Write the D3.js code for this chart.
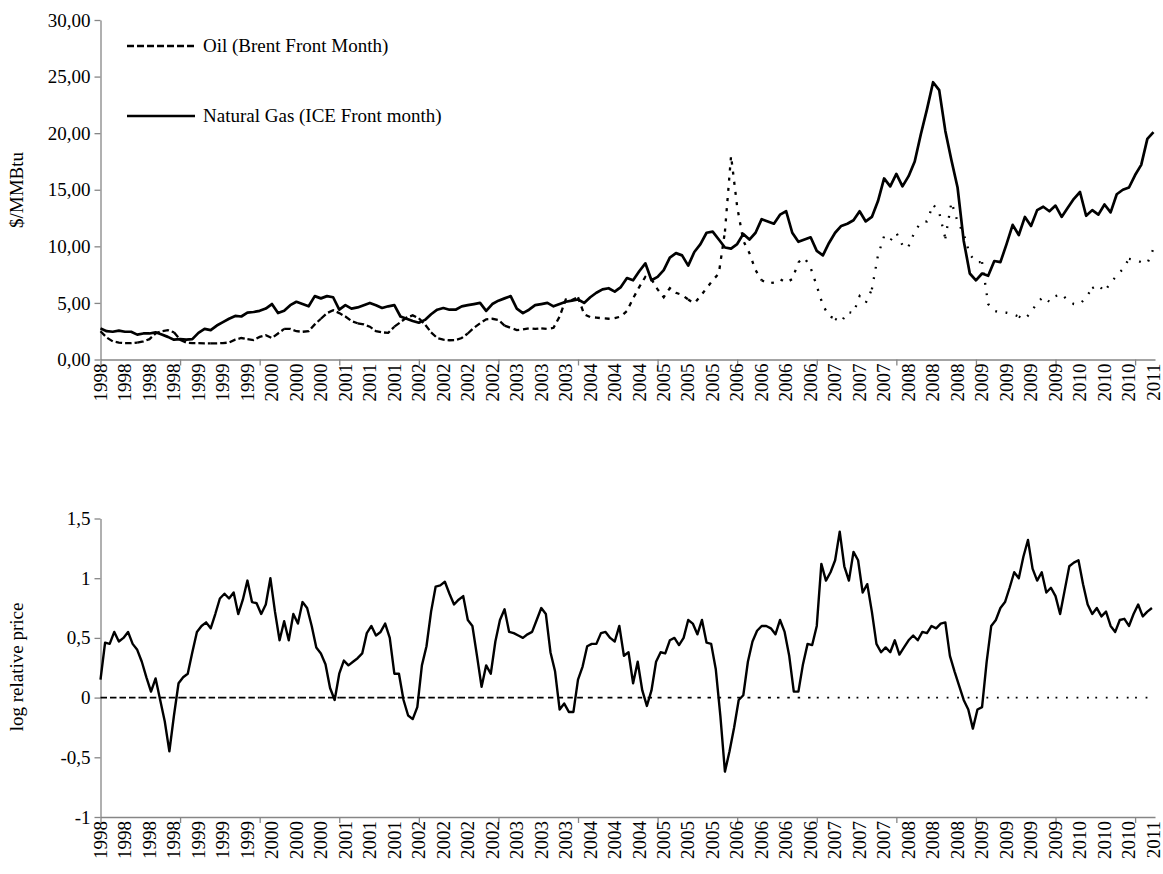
<!DOCTYPE html>
<html><head><meta charset="utf-8">
<script src="https://cdn.jsdelivr.net/npm/d3@7"></script>
<style>
body{margin:0;background:#fff}
text{font-family:"Liberation Serif","Times New Roman",serif;fill:#000}
</style>
</head><body>
<svg id="c" width="1163" height="874"></svg>
<script>
// ---------- data ----------
const nWeeks = 690;            // weekly categories
const labelEvery = 16;         // a category label every 16 weeks
const tickEvery = 52;          // a tick mark every 52 weeks
const xLabels = ["1998","1998","1998","1998","1999","1999","1999","2000","2000","2000",
 "2001","2001","2001","2002","2002","2002","2002","2003","2003","2003",
 "2004","2004","2004","2005","2005","2005","2006","2006","2006","2006",
 "2007","2007","2007","2008","2008","2008","2009","2009","2009","2009",
 "2010","2010","2010","2011"];

const priceStep = 4; // weeks between readings of the price series
const gasSeries = [2.75,2.5,2.45,2.55,2.45,2.45,2.2,2.3,2.3,2.4,
 2.2,2.0,1.75,1.8,1.75,1.8,2.35,2.7,2.6,3.0,
 3.3,3.6,3.85,3.8,4.15,4.2,4.3,4.5,4.9,4.1,
 4.3,4.8,5.1,4.9,4.7,5.6,5.4,5.6,5.5,4.4,
 4.8,4.5,4.6,4.8,5.0,4.8,4.55,4.7,4.8,3.8,
 3.6,3.4,3.25,3.5,4.0,4.4,4.55,4.4,4.4,4.7,
 4.8,4.9,5.0,4.3,4.9,5.2,5.4,5.6,4.5,4.1,
 4.4,4.8,4.9,5.0,4.7,4.9,5.1,5.2,5.3,5.0,
 5.5,5.9,6.2,6.3,6.0,6.4,7.2,7.0,7.8,8.5,
 7.0,7.3,7.9,9.0,9.4,9.2,8.3,9.5,10.2,11.2,
 11.3,10.6,9.9,9.8,10.2,11.1,10.6,11.2,12.4,12.2,
 12.0,12.8,13.1,11.2,10.4,10.6,10.8,9.6,9.2,10.3,
 11.2,11.8,12.0,12.3,13.1,12.2,12.6,14.0,16.0,15.3,
 16.4,15.3,16.2,17.5,19.9,22.1,24.5,23.8,20.2,17.6,
 15.2,10.5,7.6,7.0,7.6,7.4,8.7,8.6,10.2,11.9,
 11.0,12.6,11.8,13.2,13.5,13.1,13.6,12.6,13.4,14.2,
 14.8,12.7,13.2,12.8,13.7,13.0,14.6,15.0,15.2,16.3,
 17.2,19.5,20.1];
const oilSeries = [2.5,1.95,1.6,1.5,1.45,1.45,1.5,1.6,1.8,2.3,
 2.5,2.6,2.4,1.75,1.5,1.45,1.45,1.42,1.42,1.43,
 1.45,1.5,1.75,1.9,1.8,1.72,2.0,2.15,1.9,2.3,
 2.7,2.7,2.5,2.45,2.5,3.1,3.6,4.1,4.35,4.1,
 3.8,3.4,3.2,3.1,2.9,2.5,2.4,2.35,2.9,3.3,
 3.7,3.9,3.65,3.1,2.4,1.9,1.75,1.7,1.72,1.9,
 2.3,2.8,3.2,3.55,3.6,3.5,3.0,2.8,2.6,2.65,
 2.75,2.7,2.75,2.7,2.8,3.8,5.3,5.25,5.5,4.0,
 3.75,3.7,3.64,3.6,3.65,3.8,4.3,5.4,6.4,7.3,
 7.1,6.2,5.5,6.3,5.9,5.7,5.3,4.95,5.6,6.3,
 7.0,7.6,11.3,18.0,13.5,10.5,9.4,7.9,7.0,6.73,
 6.8,7.1,6.8,7.1,8.6,9.0,8.1,6.5,4.8,3.85,
 3.6,3.3,4.2,4.1,5.6,5.0,6.2,9.2,10.9,10.5,
 11.2,10.1,10.0,11.3,12.1,12.2,13.7,13.0,10.7,13.9,
 12.2,11.1,9.3,8.6,8.6,4.9,4.3,4.13,4.13,4.0,
 3.8,3.55,4.2,5.0,5.55,5.1,5.6,5.8,5.2,4.9,
 4.9,5.5,6.3,6.6,6.0,6.8,7.4,8.0,8.9,8.8,
 8.6,8.5,9.8];

const ratioStep = 3; // weeks between readings of the log relative price
const logRelative = [0.15,0.46,0.45,0.55,0.47,0.5,0.55,0.45,0.4,0.3,
 0.17,0.05,0.16,-0.02,-0.2,-0.45,-0.15,0.12,0.17,0.2,
 0.38,0.55,0.6,0.63,0.58,0.7,0.83,0.87,0.83,0.88,
 0.7,0.82,0.98,0.8,0.79,0.7,0.78,1.0,0.72,0.48,
 0.64,0.48,0.7,0.62,0.8,0.75,0.6,0.42,0.37,0.28,
 0.08,-0.02,0.2,0.31,0.27,0.3,0.33,0.37,0.54,0.6,
 0.52,0.55,0.62,0.5,0.2,0.2,-0.02,-0.15,-0.18,-0.08,
 0.27,0.43,0.72,0.93,0.94,0.97,0.87,0.78,0.82,0.85,
 0.65,0.6,0.35,0.09,0.27,0.2,0.47,0.65,0.74,0.55,
 0.54,0.52,0.5,0.53,0.55,0.65,0.75,0.7,0.38,0.22,
 -0.1,-0.05,-0.12,-0.12,0.15,0.26,0.43,0.45,0.45,0.54,
 0.55,0.5,0.47,0.6,0.35,0.38,0.12,0.3,0.06,-0.07,
 0.06,0.3,0.38,0.37,0.48,0.5,0.44,0.5,0.65,0.62,
 0.53,0.65,0.46,0.45,0.24,-0.15,-0.62,-0.45,-0.25,-0.02,
 0.02,0.3,0.47,0.56,0.6,0.6,0.58,0.53,0.65,0.55,
 0.35,0.05,0.05,0.28,0.45,0.44,0.6,1.12,0.98,1.05,
 1.15,1.39,1.1,0.98,1.22,1.15,0.88,0.95,0.72,0.45,
 0.38,0.42,0.38,0.48,0.36,0.42,0.48,0.52,0.48,0.55,
 0.54,0.6,0.58,0.62,0.63,0.35,0.22,0.1,-0.02,-0.1,
 -0.26,-0.1,-0.08,0.3,0.6,0.65,0.75,0.8,0.92,1.05,
 1.0,1.18,1.32,1.08,0.98,1.05,0.88,0.92,0.85,0.7,
 0.9,1.1,1.13,1.15,0.95,0.78,0.7,0.75,0.68,0.72,
 0.6,0.55,0.65,0.66,0.6,0.7,0.78,0.68,0.72,0.75];

const priceTicks = [0,5,10,15,20,25,30];
const ratioTicks = [-1,-0.5,0,0.5,1,1.5];
const legendNames = ["Oil (Brent Front Month)","Natural Gas (ICE Front month)"];

// ---------- layout ----------
const svg = d3.select("#c");
const AX = "#868686";
const FS = "19px";
const x = d3.scaleLinear().domain([0, nWeeks - 1]).range([100.5, 1155]);
const yTop = d3.scaleLinear().domain([0, 30]).range([359.5, 20]);
const yBot = d3.scaleLinear().domain([-1, 1.5]).range([817, 518.5]);

const commaFmt = d => d.toFixed(2).replace(".", ",");
const botFmt = d => String(d).replace(".", ",");

function yAxis(scale, ticks, fmt) {
  const g = svg.append("g").attr("transform", `translate(${x.range()[0]},0)`)
    .call(d3.axisLeft(scale).tickValues(ticks).tickFormat(fmt).tickSize(6).tickSizeOuter(0).tickPadding(4));
  g.select(".domain").attr("stroke", AX).attr("stroke-width", 1.3);
  g.selectAll(".tick line").attr("stroke", AX).attr("stroke-width", 1.3);
  g.selectAll(".tick text").style("font-size", FS).style("font-family", "Liberation Serif").attr("fill", "#000");
  return g;
}
function xAxis(yPos) {
  const g = svg.append("g").attr("transform", `translate(0,${yPos})`)
    .call(d3.axisBottom(x).tickValues(d3.range(0, nWeeks, tickEvery)).tickFormat("").tickSize(6).tickSizeOuter(0));
  g.select(".domain").attr("stroke", AX).attr("stroke-width", 1.3);
  g.selectAll(".tick line").attr("stroke", AX).attr("stroke-width", 1.3);
  g.selectAll("text.lab").data(xLabels).join("text").attr("class", "lab")
    .attr("transform", (d, i) => `translate(${x(i * labelEvery)},${4}) rotate(-90)`)
    .attr("text-anchor", "end").attr("dy", "0.33em")
    .style("font-size", FS).text(d => d);
}

// dashed drawing whose dash shrinks towards the right (as in the original rendering)
function dashFor(px) {
  const t = Math.max(0, Math.min(1, (px - 450) / 380));
  const dash = 6.5 - 4.7 * t;
  const period = 9.5 + 1.0 * t;
  return [dash, period - dash];
}
function dashedPath(points, lineGen, width, chunk) {
  for (let s = 0; s < points.length - 1; s += chunk) {
    const part = points.slice(s, Math.min(points.length, s + chunk + 1));
    const [a, b] = dashFor(x(part[0][0]));
    svg.append("path").datum(part).attr("d", lineGen)
      .attr("fill", "none").attr("stroke", "#000").attr("stroke-width", width)
      .attr("stroke-dasharray", `${a.toFixed(2)},${b.toFixed(2)}`);
  }
}

// ---------- top panel ----------
yAxis(yTop, priceTicks, commaFmt);
xAxis(yTop(0));

const gasPts = gasSeries.map((v, i) => [i * priceStep, v]);
const oilPts = oilSeries.map((v, i) => [i * priceStep, v]);
const lineTop = d3.line().x(d => x(d[0])).y(d => yTop(d[1]));

dashedPath(oilPts, lineTop, 2.3, 6);
svg.append("path").datum(gasPts).attr("d", lineTop).attr("fill", "none")
  .attr("stroke", "#000").attr("stroke-width", 2.7).attr("stroke-linejoin", "round");

svg.append("text").attr("transform", "translate(23,190) rotate(-90)")
  .attr("text-anchor", "middle").style("font-size", FS).text("$/MMBtu");

// legend
const lg = svg.append("g");
const legY = [46, 116];
lg.append("line").attr("x1", 127).attr("x2", 195).attr("y1", legY[0]).attr("y2", legY[0])
  .attr("stroke", "#000").attr("stroke-width", 2.3).attr("stroke-dasharray", "7,3");
lg.append("line").attr("x1", 127).attr("x2", 195).attr("y1", legY[1]).attr("y2", legY[1])
  .attr("stroke", "#000").attr("stroke-width", 2.7);
legendNames.forEach((n, i) => lg.append("text").attr("x", 203).attr("y", legY[i]).attr("dy", "0.33em")
  .style("font-size", FS).text(n));

// ---------- bottom panel ----------
yAxis(yBot, ratioTicks, botFmt);
xAxis(yBot(-1));

const zeroPts = d3.range(0, nWeeks, 13).concat([nWeeks - 1]).map(w => [w, 0]);
const lineBot = d3.line().x(d => x(d[0])).y(d => yBot(d[1]));
dashedPath(zeroPts, lineBot, 1.6, 2);

const ratioPts = logRelative.map((v, i) => [i * ratioStep, v]);
svg.append("path").datum(ratioPts).attr("d", lineBot).attr("fill", "none")
  .attr("stroke", "#000").attr("stroke-width", 2.4).attr("stroke-linejoin", "round");

svg.append("text").attr("transform", "translate(23,667) rotate(-90)")
  .attr("text-anchor", "middle").style("font-size", FS).text("log relative price");
</script>
</body></html>
